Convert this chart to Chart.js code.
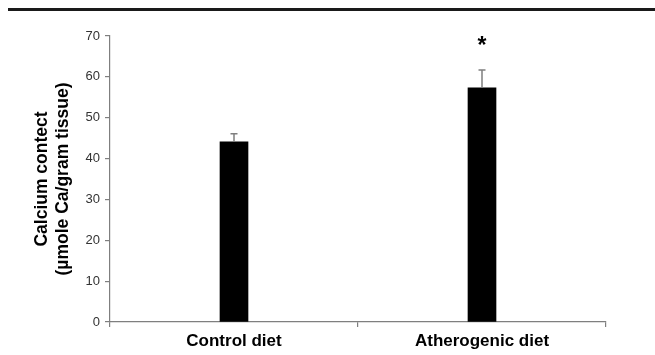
<!DOCTYPE html>
<html>
<head>
<meta charset="utf-8">
<script src="https://cdn.jsdelivr.net/npm/chart.js@4/dist/chart.umd.min.js"></script>
<style>
  html, body { margin: 0; padding: 0; background: #fff; }
  #wrap { position: relative; width: 655px; height: 355px; }
  #topline { position: absolute; left: 8px; right: 0; top: 8px; height: 3px; background: #1a1a1a; }
  canvas { position: absolute; left: 0; top: 0; }
</style>
</head>
<body>
<div id="wrap">
  <div id="topline"></div>
  <canvas id="c" width="655" height="355"></canvas>
</div>
<script>
const categories = ["Control diet", "Atherogenic diet"];
const calciumMeans = [44.1, 57.3];
const calciumErrors = [2.0, 4.4];
const significance = ["", "*"];
const yTicks = [0, 10, 20, 30, 40, 50, 60, 70];

const errorBarPlugin = {
  id: 'errorBars',
  afterDatasetsDraw(chart) {
    const ctx = chart.ctx;
    const meta = chart.getDatasetMeta(0);
    const y = chart.scales.y;
    ctx.save();
    meta.data.forEach((bar, i) => {
      const x = bar.x;
      const top = y.getPixelForValue(calciumMeans[i] + calciumErrors[i]);
      const base = y.getPixelForValue(calciumMeans[i]);
      ctx.strokeStyle = '#7f7f7f';
      ctx.lineWidth = 1.5;
      ctx.beginPath();
      ctx.moveTo(x, base);
      ctx.lineTo(x, top);
      ctx.moveTo(x - 3.5, top);
      ctx.lineTo(x + 3.5, top);
      ctx.stroke();
      if (significance[i]) {
        ctx.fillStyle = '#000';
        ctx.font = 'bold 23px "Liberation Sans", Arial, sans-serif';
        ctx.textAlign = 'center';
        ctx.textBaseline = 'middle';
        ctx.fillText(significance[i], x, y.getPixelForValue(67.5));
      }
    });
    ctx.restore();
  }
};

new Chart(document.getElementById('c'), {
  type: 'bar',
  data: {
    labels: categories,
    datasets: [{
      data: calciumMeans,
      backgroundColor: '#000',
      borderColor: '#000',
      borderWidth: 0,
      barThickness: 28
    }]
  },
  options: {
    responsive: false,
    animation: false,
    layout: { padding: { top: 36, right: 49, left: 0, bottom: 0 } },
    plugins: { legend: { display: false }, tooltip: { enabled: false } },
    scales: {
      x: {
        offset: true,
        grid: { offset: true, drawOnChartArea: false, drawTicks: true, tickLength: 5, color: '#7f7f7f', lineWidth: 1.2 },
        border: { color: '#7f7f7f', width: 1.2 },
        ticks: { color: '#000', font: { family: '"Liberation Sans", Arial, sans-serif', size: 17, weight: 'bold' }, padding: 4 },
        afterFit(scale) { scale.height = 33; }
      },
      y: {
        min: 0, max: 70,
        afterBuildTicks(scale) { scale.ticks = yTicks.map(v => ({ value: v })); },
        grid: { drawOnChartArea: false, drawTicks: true, tickLength: 5, color: '#7f7f7f', lineWidth: 1.2 },
        border: { color: '#7f7f7f', width: 1.2 },
        ticks: { color: '#333', font: { family: '"Liberation Sans", Arial, sans-serif', size: 13 }, padding: 5 },
        title: {
          display: true,
          text: ['Calcium contect', '(µmole Ca/gram tissue)'],
          color: '#000',
          font: { family: '"Liberation Sans", Arial, sans-serif', size: 17.5, weight: 'bold', lineHeight: 1.2 },
          padding: { top: 32, bottom: 0 }
        },
        afterFit(scale) { scale.width = 110; }
      }
    }
  },
  plugins: [errorBarPlugin]
});
</script>
</body>
</html>
